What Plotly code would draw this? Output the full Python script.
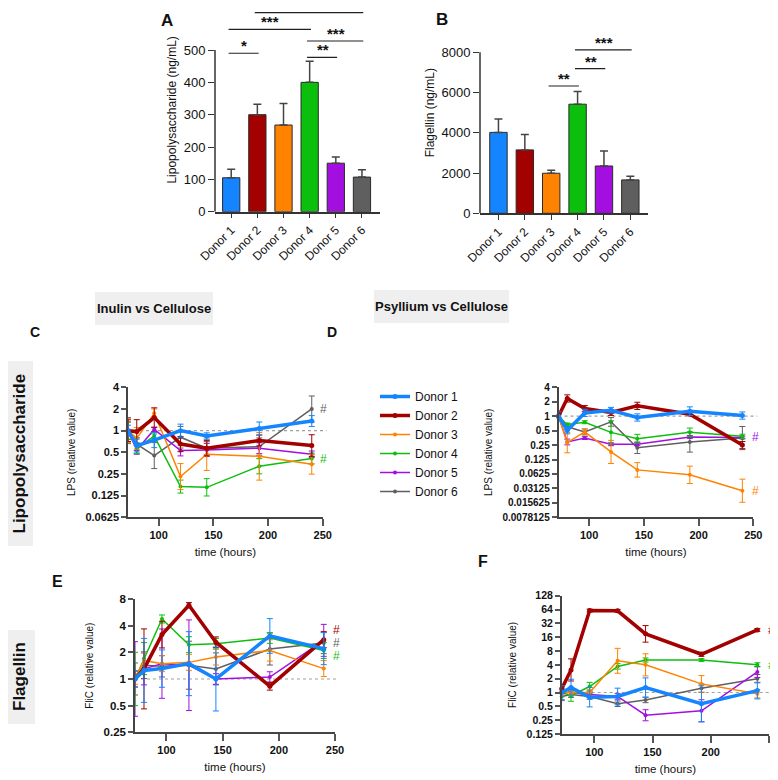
import numpy as np
import plotly.graph_objects as go

# the page body adds an 8px margin, so the figure is drawn 8px in from the corner
OFF = 8
W, H = 770, 772

donors = ["Donor 1", "Donor 2", "Donor 3", "Donor 4", "Donor 5", "Donor 6"]
colors = ["#1485FF", "#A30000", "#FF8200", "#0DBF0D", "#A20FE0", "#5F5F5F"]
hours = [72, 80, 96, 120, 144, 192, 240]

# panel A / B: absolute concentrations
lps_mean = [105, 300, 268, 400, 150, 107]
lps_sd = [26, 32, 67, 65, 19, 23]
flag_mean = [4020, 3150, 1990, 5420, 2350, 1660]
flag_sd = [660, 760, 150, 630, 740, 180]

# significance brackets: (donor i, donor j, height, label)
lps_sig = [(0, 1, 490, "*"), (3, 4, 477, "**"), (3, 5, 528, "***"),
           (0, 3, 564, "***"), (1, 5, 616, "*")]
flag_sig = [(2, 3, 6325, "**"), (3, 4, 7185, "**"), (3, 5, 8115, "***")]

# relative values (fold vs cellulose), one row per donor
lps_inulin = [
    [1.0, 0.62, 0.74, 1.0, 0.84, 1.07, 1.36],
    [1.0, 0.97, 1.52, 0.65, 0.57, 0.73, 0.62],
    [1.0, 0.78, 1.74, 0.23, 0.47, 0.44, 0.34],
    [1.0, 0.57, 0.84, 0.167, 0.163, 0.32, 0.41],
    [1.0, 0.54, 1.04, 0.53, 0.54, 0.57, 0.47],
    [1.0, 0.65, 0.45, 0.81, 0.57, 0.60, 2.0],
]
lps_inulin_err = [  # half-width in log2 units
    [0.25, 0.3, 0.35, 0.3, 0.15, 0.3, 0.25],
    [0.5, 0.55, 0.45, 0.35, 0.35, 0.25, 0.5],
    [0.55, 0.5, 0.2, 0.6, 0.75, 1.1, 0.45],
    [0.4, 0.25, 0.1, 0.3, 0.4, 0.35, 0.25],
    [0.4, 0.2, 0.1, 0.25, 0.3, 0.25, 0.15],
    [0.6, 0.3, 0.6, 0.5, 0.3, 0.4, 0.6],
]
lps_psyllium = [
    [1.0, 0.51, 1.17, 1.33, 0.94, 1.27, 1.03],
    [1.0, 2.34, 1.45, 1.19, 1.64, 1.1, 0.25],
    [1.0, 0.28, 0.47, 0.18, 0.076, 0.06, 0.028],
    [1.0, 0.67, 0.75, 0.46, 0.34, 0.46, 0.38],
    [1.0, 0.29, 0.35, 0.26, 0.26, 0.37, 0.36],
    [1.0, 0.6, 0.47, 0.76, 0.22, 0.29, 0.35],
]
lps_psyllium_err = [
    [0.3, 0.25, 0.25, 0.2, 0.25, 0.3, 0.25],
    [0.3, 0.25, 0.2, 0.2, 0.25, 0.1, 0.25],
    [0.2, 0.7, 0.2, 0.8, 0.5, 0.6, 0.8],
    [0.15, 0.1, 0.1, 0.8, 0.3, 0.3, 0.15],
    [0.1, 0.2, 0.1, 0.1, 0.1, 0.1, 0.1],
    [0.2, 0.2, 0.2, 0.3, 0.4, 0.7, 0.8],
]
flic_inulin = [
    [1.0, 1.25, 1.31, 1.49, 1.0, 3.06, 2.2],
    [1.0, 1.3, 3.17, 6.8, 2.6, 0.83, 2.78],
    [1.0, 1.62, 1.49, 1.54, 1.77, 2.1, 1.31],
    [1.0, 1.7, 4.76, 2.44, 2.5, 2.9, 2.1],
    [1.0, 1.3, 1.49, 1.43, 1.0, 1.05, 2.73],
    [1.0, 1.43, 1.39, 1.43, 1.3, 2.18, 2.55],
]
flic_inulin_err = [
    [0.3, 1.2, 0.7, 1.2, 1.2, 0.65, 0.6],
    [0.3, 1.5, 0.5, 0.1, 0.2, 0.15, 0.3],
    [0.2, 0.3, 0.3, 0.3, 0.3, 0.4, 0.3],
    [1.0, 0.6, 0.15, 0.3, 0.2, 0.2, 0.3],
    [1.4, 0.6, 1.3, 1.7, 0.2, 0.2, 0.6],
    [0.6, 0.5, 0.4, 0.9, 0.6, 0.6, 0.4],
]
flic_psyllium = [
    [1.0, 1.28, 0.79, 0.82, 1.28, 0.57, 1.1],
    [1.2, 3.1, 60.8, 60.0, 18.9, 6.8, 23.0],
    [1.0, 1.0, 1.0, 4.9, 4.0, 1.54, 0.94],
    [1.0, 0.85, 1.35, 3.7, 5.1, 5.1, 4.0],
    [1.0, 1.0, 0.9, 0.82, 0.32, 0.4, 2.8],
    [0.82, 0.9, 0.82, 0.57, 0.69, 1.24, 2.0],
]
flic_psyllium_err = [
    [0.5, 0.6, 0.7, 0.6, 0.7, 1.3, 0.6],
    [0.3, 0.8, 0.1, 0.1, 0.6, 0.15, 0.1],
    [0.2, 0.2, 0.2, 0.9, 0.8, 0.6, 0.3],
    [0.3, 0.4, 0.3, 0.2, 0.15, 0.1, 0.15],
    [0.2, 0.2, 0.2, 0.2, 0.4, 0.8, 0.4],
    [0.3, 0.2, 0.2, 0.2, 0.2, 0.3, 0.3],
]

lps_inulin_ticks = ["4", "2", "1", "0.5", "0.25", "0.125", "0.0625"]
lps_psyllium_ticks = ["4", "2", "1", "0.5", "0.25", "0.125", "0.0625",
                      "0.03125", "0.015625", "0.0078125"]
flic_inulin_ticks = ["8", "4", "2", "1", "0.5", "0.25"]
flic_psyllium_ticks = ["128", "64", "32", "16", "8", "4", "2", "1",
                       "0.5", "0.25", "0.125"]

# '#' marks: (donor index, yshift)
hash_marks = {
    3: [(5, 0), (3, 0)],
    4: [(4, 0), (2, 0)],
    5: [(1, 10), (5, 0), (3, -6)],
    6: [(1, 0), (3, 0)],
}

FONT = "Liberation Sans, Arial, sans-serif"
AXC = "#333333"


def px_x(x):
    return (x - OFF) / W


def px_y(y):
    return 1 - (y - OFF) / H


def sfx(n):
    return "" if n == 1 else str(n)


fig = go.Figure()
shapes = []
annotations = []
layout = {}

# ---------- bar panels A and B ----------
bar_panels = [
    (1, lps_mean, lps_sd, lps_sig, (215, 380), (211.7, 8), [0, 630],
     [0, 100, 200, 300, 400, 500], "Lipopolysaccharide (ng/mL)", [-0.62, 5.69]),
    (2, flag_mean, flag_sd, flag_sig, (480, 648), (213.3, 12), [0, 10000],
     [0, 2000, 4000, 6000, 8000], "Flagellin (ng/mL)", [-0.70, 5.67]),
]
for n, mean, sd, sig, xd, yd, yr, yt, ytitle, xr in bar_panels:
    s = sfx(n)
    xs = list(range(len(donors)))
    fig.add_trace(go.Bar(
        x=xs, y=mean, width=0.66, xaxis=f"x{s}", yaxis=f"y{s}",
        marker=dict(color=colors, line=dict(color="#2a2a2a", width=1)),
        error_y=dict(type="data", array=sd, arrayminus=[0] * len(sd),
                     symmetric=False, color="#444444", thickness=1.5, width=4),
        showlegend=False,
    ))
    layout[f"xaxis{s}"] = dict(
        domain=[px_x(xd[0]), px_x(xd[1])], range=xr, anchor=f"y{s}",
        automargin=False,
        tickvals=xs, ticktext=donors, tickangle=-45, ticks="outside",
        ticklen=5, tickcolor=AXC, showline=True, linecolor=AXC, linewidth=1.5,
        showgrid=False, zeroline=False,
        tickfont=dict(size=12, color="#111111"),
    )
    layout[f"yaxis{s}"] = dict(
        domain=[px_y(yd[0]), px_y(yd[1])], range=yr, anchor=f"x{s}",
        automargin=False,
        tickvals=yt, ticks="outside", ticklen=6, tickcolor=AXC,
        showline=False, showgrid=False, zeroline=False,
        tickfont=dict(size=13, color="#111111"),
        title=dict(text=ytitle, font=dict(size=12, color="#111111"), standoff=4),
    )
    shapes.append(dict(type="line", xref=f"x{s} domain", x0=0, x1=0,
                       yref=f"y{s}", y0=0, y1=yt[-1],
                       line=dict(color=AXC, width=1.5)))
    for i, j, h, lab in sig:
        shapes.append(dict(type="line", xref=f"x{s}", yref=f"y{s}",
                           x0=i - 0.1, x1=j + 0.05, y0=h, y1=h,
                           line=dict(color="#222222", width=1.2)))
        annotations.append(dict(xref=f"x{s}", yref=f"y{s}", x=(i + j) / 2, y=h,
                                text=lab, showarrow=False, xanchor="center",
                                yanchor="bottom", yshift=-3,
                                font=dict(size=15, color="#111111", weight="bold")))

# ---------- time course panels C-F ----------
time_panels = [
    (3, lps_inulin, lps_inulin_err, lps_inulin_ticks, (128, 322.7), (517.3, 387.3),
     "LPS (relative value)", 11, 12),
    (4, lps_psyllium, lps_psyllium_err, lps_psyllium_ticks, (558.5, 753.3),
     (517.3, 387.3), "LPS (relative value)", 10, 13),
    (5, flic_inulin, flic_inulin_err, flic_inulin_ticks, (135, 335), (732.3, 599),
     "FliC (relative value)", 11.5, 13),
    (6, flic_psyllium, flic_psyllium_err, flic_psyllium_ticks, (561.7, 769),
     (734, 595.7), "FliC (relative value)", 10.5, 14),
]
for n, vals, errs, ticks, xd, yd, ytitle, tfs, hx in time_panels:
    tv = [float(t) for t in ticks]
    for k in reversed(range(len(donors))):
        y = np.array(vals[k])
        e = np.array(errs[k])
        thick = k < 2
        fig.add_trace(go.Scatter(
            x=hours, y=y, mode="lines+markers", name=donors[k],
            xaxis=f"x{n}", yaxis=f"y{n}", legendgroup=donors[k],
            showlegend=(n == 3), cliponaxis=False,
            line=dict(color=colors[k], width=3.5 if thick else 1.5),
            marker=dict(color=colors[k], size=5 if thick else 4),
            error_y=dict(type="data", array=y * (2 ** e - 1),
                         arrayminus=y * (1 - 2 ** -e), symmetric=False,
                         color=colors[k], thickness=1, width=3),
        ))
    layout[f"xaxis{n}"] = dict(
        domain=[px_x(xd[0]), px_x(xd[1])], range=[72, 250], anchor=f"y{n}",
        automargin=False,
        tickvals=[100, 150, 200, 250], ticks="outside", ticklen=7,
        tickcolor="#555555", tickwidth=1.5,
        showline=True, linecolor="#444444", linewidth=1.5,
        showgrid=False, zeroline=False,
        tickfont=dict(size=11, color="#111111", weight="bold"),
        title=dict(text="time (hours)", font=dict(size=11.5, color="#111111"),
                   standoff=8),
    )
    layout[f"yaxis{n}"] = dict(
        domain=[px_y(yd[0]), px_y(yd[1])], type="log",
        range=[np.log10(min(tv)), np.log10(max(tv))], anchor=f"x{n}",
        automargin=False,
        tickvals=tv, ticktext=ticks, ticks="outside", ticklen=5,
        tickcolor="#555555", tickwidth=1.5,
        showline=True, linecolor="#444444", linewidth=1.5,
        showgrid=False, zeroline=False,
        tickfont=dict(size=tfs, color="#111111", weight="bold"),
        title=dict(text=ytitle, font=dict(size=10, color="#111111"), standoff=8),
    )
    shapes.append(dict(type="line", xref=f"x{n} domain", x0=0, x1=1.02,
                       yref=f"y{n}", y0=1, y1=1, layer="below",
                       line=dict(color="#a0a0a0", width=1.2, dash="dot")))
    for k, ys in hash_marks[n]:
        annotations.append(dict(xref=f"x{n}", yref=f"y{n}", x=240,
                                y=np.log10(vals[k][-1]), text="#",
                                showarrow=False, xshift=hx, yshift=ys,
                                xanchor="center", yanchor="middle",
                                font=dict(size=12, color=colors[k])))

# ---------- headers, row labels, panel letters ----------
def paper_text(txt, x, y, size, angle=0):
    annotations.append(dict(xref="paper", yref="paper", x=px_x(x), y=px_y(y),
                            text=txt, showarrow=False, textangle=angle,
                            xanchor="center", yanchor="middle",
                            font=dict(size=size, color="#111111", weight="bold")))


for x0, x1, y0, y1, txt in [(95, 213, 292, 325, "Inulin vs Cellulose"),
                            (374, 509, 290, 323, "Psyllium vs Cellulose")]:
    shapes.append(dict(type="rect", xref="paper", yref="paper",
                       x0=px_x(x0), x1=px_x(x1), y0=px_y(y1), y1=px_y(y0),
                       fillcolor="#EFEFEF", line=dict(width=0)))
    paper_text(txt, (x0 + x1) / 2, (y0 + y1) / 2, 13)

for x0, x1, y0, y1, txt in [(0, 33, 361, 546, "Lipopolysaccharide"),
                            (2, 35, 630, 724, "Flagellin")]:
    shapes.append(dict(type="rect", xref="paper", yref="paper",
                       x0=px_x(x0), x1=px_x(x1), y0=px_y(y1), y1=px_y(y0),
                       fillcolor="#EFEFEF", line=dict(width=0)))
    paper_text(txt, 19, (y0 + y1) / 2, 17, angle=-90)

for txt, x, y, sz in [("A", 167, 20, 17), ("B", 442, 19, 17),
                      ("C", 35, 332, 14), ("D", 332, 332, 14),
                      ("E", 58, 581, 16), ("F", 483, 561, 16)]:
    paper_text(txt, x, y, sz)

fig.update_layout(
    width=W, height=H,
    margin=dict(l=0, r=0, t=0, b=0, autoexpand=False),
    paper_bgcolor="white", plot_bgcolor="white",
    font=dict(family=FONT, color="#111111"),
    showlegend=True,
    legend=dict(x=px_x(375), y=px_y(382), xanchor="left", yanchor="top",
                traceorder="reversed", font=dict(size=12, color="#111111"),
                bgcolor="rgba(0,0,0,0)", itemwidth=30),
    shapes=shapes, annotations=annotations,
    **layout,
)

fig.write_html("out.html")
